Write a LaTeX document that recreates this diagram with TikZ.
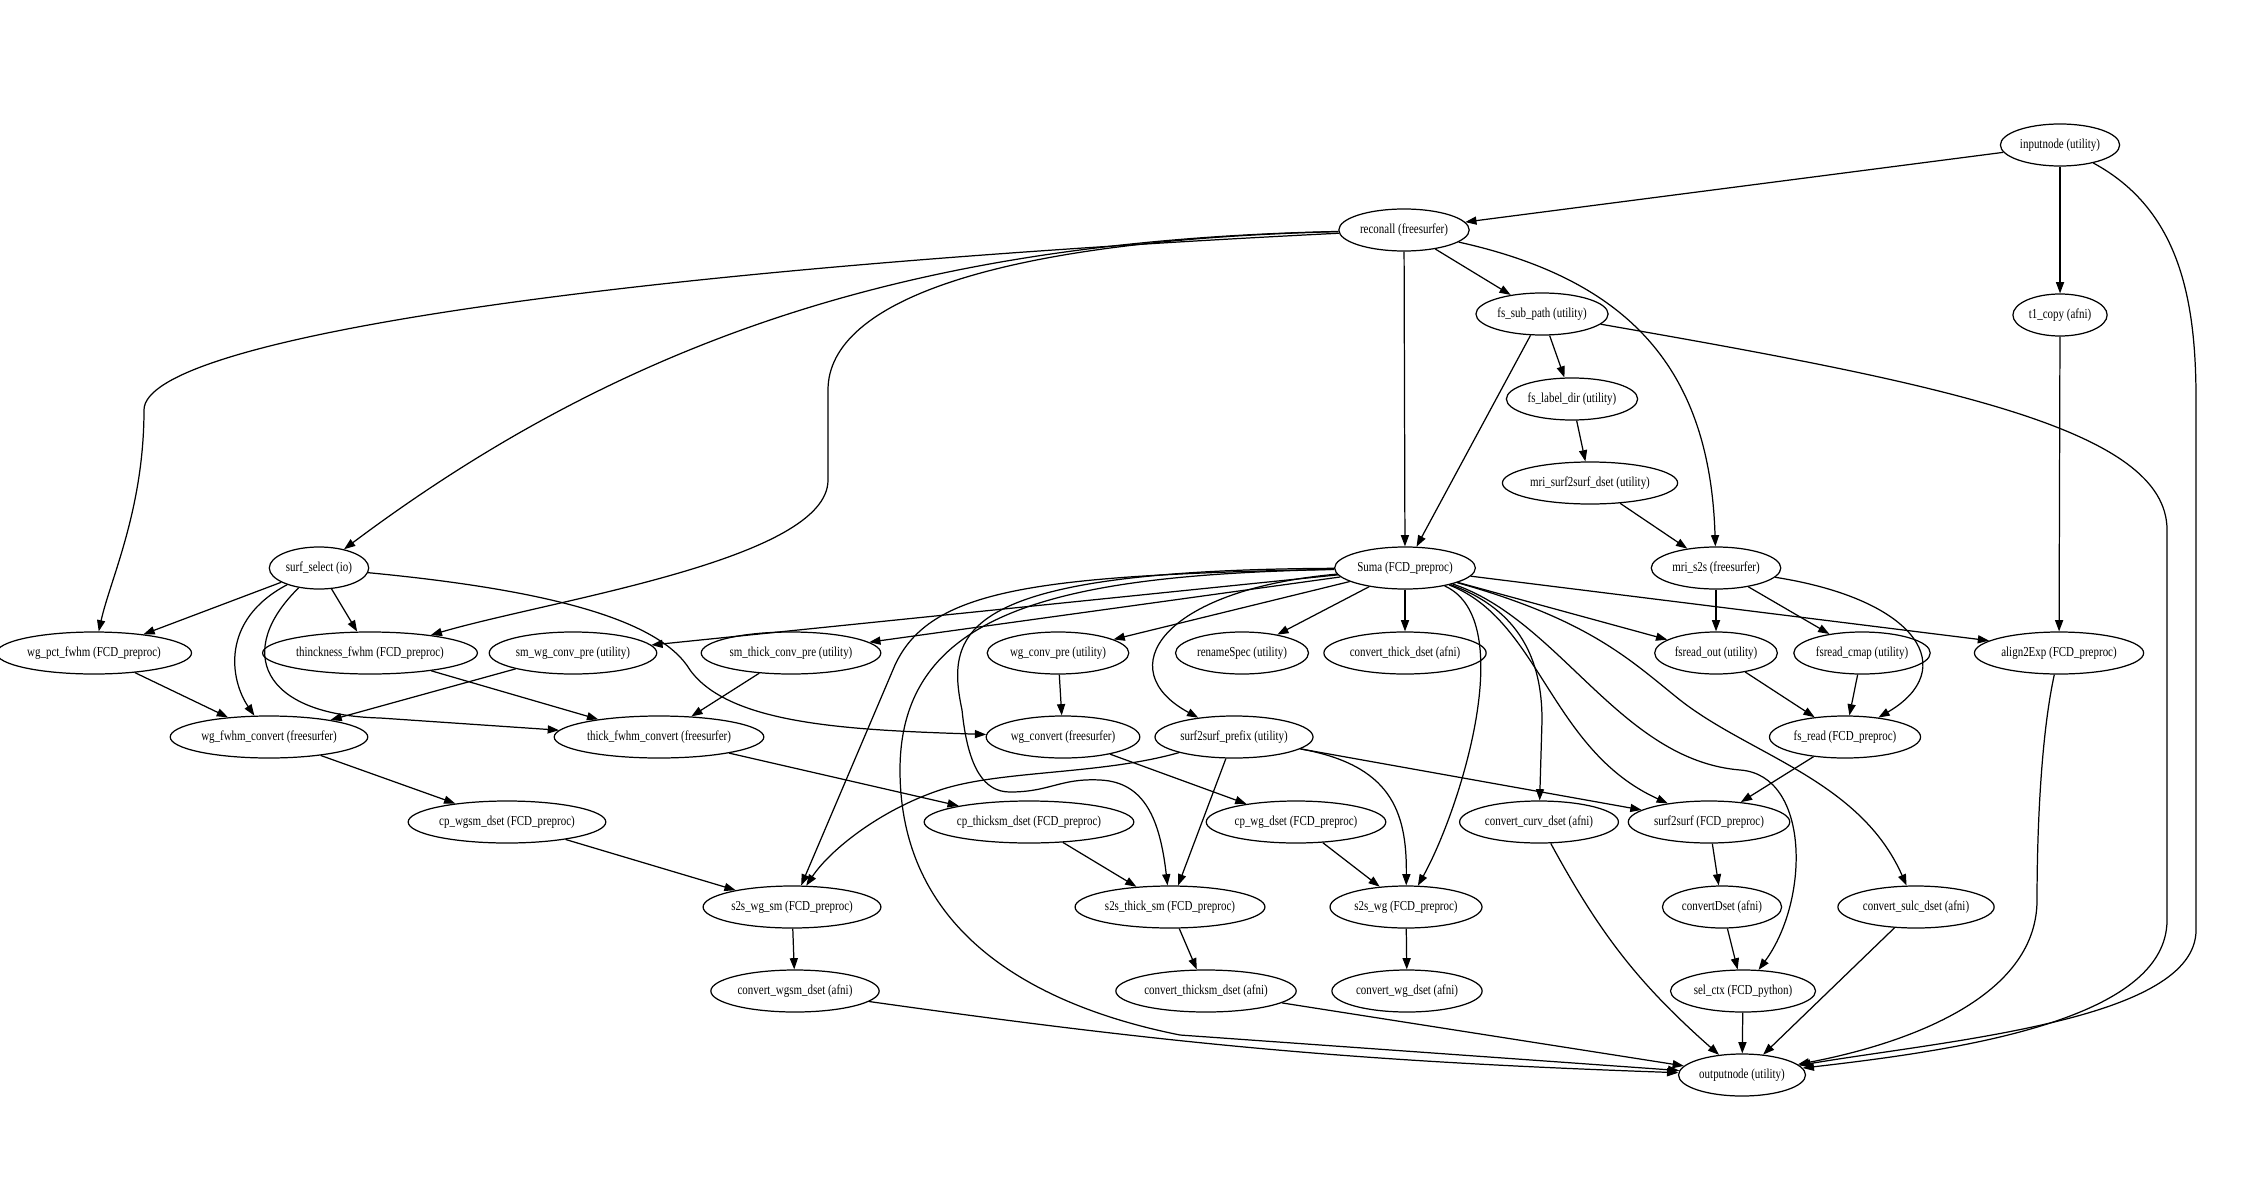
\documentclass[tikz,border=0pt]{standalone}
\usepackage{fontspec}
\setmainfont{Liberation Serif}[FakeStretch=0.8]
\usetikzlibrary{arrows.meta,shapes.geometric}
\tikzset{
  proc/.style={draw, ellipse, line width=0.35pt, inner xsep=0.6pt, inner ysep=0pt,
    minimum height=0.42cm, font=\fontsize{3.9}{4.5}\selectfont},
  edge/.style={line width=0.35pt, -{Triangle[length=3.2pt,width=2.3pt]}}
}
\begin{document}
\begin{tikzpicture}
	\useasboundingbox (0,0) rectangle (22.5,12);
	% 1. Top of the pipeline
	\node[proc] (inputnode) at (20.60,10.55) {inputnode (utility)};
	\node[proc] (reconall) at (14.04,9.70) {reconall (freesurfer)};
	\node[proc] (fssubpath) at (15.42,8.86) {fs\_sub\_path (utility)};
	\node[proc] (tonecopy) at (20.60,8.85) {t1\_copy (afni)};
	\node[proc] (fslabeldir) at (15.72,8.01) {fs\_label\_dir (utility)};
	\node[proc] (mrisurfdset) at (15.90,7.17) {mri\_surf2surf\_dset (utility)};
	% 2. Row of surf_select / Suma / mri_s2s
	\node[proc] (surfselect) at (3.19,6.32) {surf\_select (io)};
	\node[proc] (suma) at (14.05,6.32) {Suma (FCD\_preproc)};
	\node[proc] (mris2s) at (17.16,6.32) {mri\_s2s (freesurfer)};
	% 3. Middle rows
	\node[proc] (wgpct) at (0.94,5.47) {wg\_pct\_fwhm (FCD\_preproc)};
	\node[proc] (thinck) at (3.70,5.47) {thinckness\_fwhm (FCD\_preproc)};
	\node[proc] (smwgconv) at (5.73,5.47) {sm\_wg\_conv\_pre (utility)};
	\node[proc] (smthickconv) at (7.91,5.47) {sm\_thick\_conv\_pre (utility)};
	\node[proc] (wgconvpre) at (10.58,5.47) {wg\_conv\_pre (utility)};
	\node[proc] (renamespec) at (12.42,5.47) {renameSpec (utility)};
	\node[proc] (convthick) at (14.05,5.47) {convert\_thick\_dset (afni)};
	\node[proc] (fsreadout) at (17.16,5.47) {fsread\_out (utility)};
	\node[proc] (fsreadcmap) at (18.62,5.47) {fsread\_cmap (utility)};
	\node[proc] (aligntoexp) at (20.59,5.47) {align2Exp (FCD\_preproc)};
	\node[proc] (wgfwhmconv) at (2.69,4.63) {wg\_fwhm\_convert (freesurfer)};
	\node[proc] (thickfwhmconv) at (6.59,4.63) {thick\_fwhm\_convert (freesurfer)};
	\node[proc] (wgconvert) at (10.63,4.63) {wg\_convert (freesurfer)};
	\node[proc] (sprefix) at (12.34,4.63) {surf2surf\_prefix (utility)};
	\node[proc] (fsread) at (18.45,4.63) {fs\_read (FCD\_preproc)};
	\node[proc] (cpwgsm) at (5.07,3.78) {cp\_wgsm\_dset (FCD\_preproc)};
	\node[proc] (cpthicksm) at (10.29,3.78) {cp\_thicksm\_dset (FCD\_preproc)};
	\node[proc] (cpwg) at (12.96,3.78) {cp\_wg\_dset (FCD\_preproc)};
	\node[proc] (convcurv) at (15.39,3.78) {convert\_curv\_dset (afni)};
	\node[proc] (surftosurf) at (17.09,3.78) {surf2surf (FCD\_preproc)};
	% 4. Bottom rows
	\node[proc] (sswgsm) at (7.92,2.93) {s2s\_wg\_sm (FCD\_preproc)};
	\node[proc] (ssthicksm) at (11.70,2.93) {s2s\_thick\_sm (FCD\_preproc)};
	\node[proc] (sswg) at (14.06,2.93) {s2s\_wg (FCD\_preproc)};
	\node[proc] (convdset) at (17.22,2.93) {convertDset (afni)};
	\node[proc] (convsulc) at (19.16,2.93) {convert\_sulc\_dset (afni)};
	\node[proc] (convwgsm) at (7.95,2.09) {convert\_wgsm\_dset (afni)};
	\node[proc] (convthicksm) at (12.06,2.09) {convert\_thicksm\_dset (afni)};
	\node[proc] (convwg) at (14.07,2.09) {convert\_wg\_dset (afni)};
	\node[proc] (selctx) at (17.43,2.09) {sel\_ctx (FCD\_python)};
	\node[proc] (outputnode) at (17.42,1.25) {outputnode (utility)};

	% 5. Straight connectors
	\foreach \a/\b in {inputnode/reconall, inputnode/tonecopy, reconall/fssubpath, reconall/suma,
		fssubpath/fslabeldir, fssubpath/suma, fslabeldir/mrisurfdset, mrisurfdset/mris2s,
		tonecopy/aligntoexp, mris2s/fsreadout, mris2s/fsreadcmap, fsreadout/fsread, fsreadcmap/fsread,
		fsread/surftosurf, surftosurf/convdset, convdset/selctx, selctx/outputnode, convsulc/outputnode,
		convthicksm/outputnode, surfselect/wgpct, surfselect/thinck, wgpct/wgfwhmconv,
		thinck/thickfwhmconv, smwgconv/wgfwhmconv, smthickconv/thickfwhmconv, wgconvpre/wgconvert,
		wgfwhmconv/cpwgsm, thickfwhmconv/cpthicksm, wgconvert/cpwg, cpwgsm/sswgsm,
		cpthicksm/ssthicksm, cpwg/sswg, sswgsm/convwgsm, ssthicksm/convthicksm, sswg/convwg,
		sprefix/ssthicksm, sprefix/surftosurf, suma/smwgconv, suma/smthickconv, suma/wgconvpre,
		suma/renamespec, suma/convthick, suma/fsreadout}
		\draw[edge] (\a) -- (\b);
	\draw[edge] (suma) -- (aligntoexp.170);

	% 6. Long connectors on the right
	\draw[edge] (inputnode) .. controls (21.8,9.9) and (21.96,9.0) .. (21.96,8.0) -- (21.96,2.7)
		.. controls (21.96,1.8) and (19.5,1.6) .. (outputnode);
	\draw[edge] (fssubpath) .. controls (19.5,8.15) and (21.67,7.7) .. (21.67,6.7) -- (21.67,2.8)
		.. controls (21.67,1.8) and (19.6,1.5) .. (outputnode);
	\draw[edge] (aligntoexp) .. controls (20.4,4.6) and (20.37,3.6) .. (20.37,3.0)
		.. controls (20.37,2.0) and (19.0,1.55) .. (outputnode);
	\draw[edge] (reconall) .. controls (16.3,9.2) and (17.1,8.3) .. (mris2s);
	\draw[edge] (mris2s) .. controls (19.2,6.0) and (19.6,5.3) .. (fsread);

	% 7. Long connectors on the left
	\draw[edge] (reconall) .. controls (6.0,9.3) and (1.44,8.6) .. (1.44,7.9)
		.. controls (1.44,6.9) and (1.1,6.2) .. (wgpct);
	\draw[edge] (reconall) .. controls (9.5,9.6) and (6.5,8.8) .. (surfselect);
	\draw[edge] (reconall) .. controls (10.0,9.6) and (8.28,9.0) .. (8.28,8.1) -- (8.28,7.2)
		.. controls (8.28,6.4) and (5.5,6.0) .. (thinck);
	\draw[edge] (surfselect) .. controls (2.2,5.8) and (2.3,5.2) .. (wgfwhmconv);
	\draw[edge] (surfselect) .. controls (2.35,5.5) and (2.6,4.85) .. (3.8,4.82) -- (thickfwhmconv);
	\draw[edge] (surfselect) .. controls (5.5,6.1) and (6.6,5.8) .. (6.9,5.3)
		.. controls (7.3,4.75) and (8.5,4.7) .. (wgconvert);

	% 8. Fan out of Suma
	\draw[edge] (suma) .. controls (11.6,6.1) and (11.1,5.3) .. (sprefix);
	\draw[edge] (suma) .. controls (10.3,6.25) and (9.3,6.1) .. (8.95,5.35) -- (sswgsm);
	\draw[edge] (suma) .. controls (9.6,6.3) and (9.45,5.7) .. (9.62,4.9)
		.. controls (9.68,4.3) and (9.85,4.08) .. (10.1,4.08)
		.. controls (10.5,4.08) and (10.6,4.22) .. (11.0,4.2)
		.. controls (11.45,4.18) and (11.6,3.8) .. (ssthicksm);
	\draw[edge] (suma) .. controls (10.6,6.25) and (9.0,5.9) .. (9.0,4.3)
		.. controls (9.0,2.7) and (10.3,1.95) .. (11.8,1.65) -- (outputnode);
	\draw[edge] (suma) .. controls (15.2,5.8) and (14.6,3.9) .. (sswg);
	\draw[edge] (suma) .. controls (15.2,5.9) and (15.42,5.4) .. (15.42,4.8) -- (convcurv);
	\draw[edge] (suma) .. controls (15.4,5.8) and (15.5,4.5) .. (surftosurf);
	\draw[edge] (suma) .. controls (15.6,5.8) and (16.2,4.4) .. (17.4,4.3)
		.. controls (18.1,4.25) and (18.1,3.0) .. (selctx);
	\draw[edge] (suma) .. controls (15.9,5.8) and (16.3,5.4) .. (16.8,5.0)
		.. controls (17.5,4.45) and (18.6,4.2) .. (convsulc);

	% 9. Remaining curves
	\draw[edge] (sprefix) .. controls (13.9,4.35) and (14.07,3.9) .. (sswg);
	\draw[edge] (sprefix) .. controls (11.0,4.25) and (10.0,4.3) .. (9.4,4.1)
		.. controls (8.8,3.9) and (8.3,3.5) .. (sswgsm);
	\draw[edge] (convcurv) to[bend right=10] (outputnode);
	\draw[edge] (convwgsm) to[bend right=3] (outputnode);
\end{tikzpicture}
\end{document}
